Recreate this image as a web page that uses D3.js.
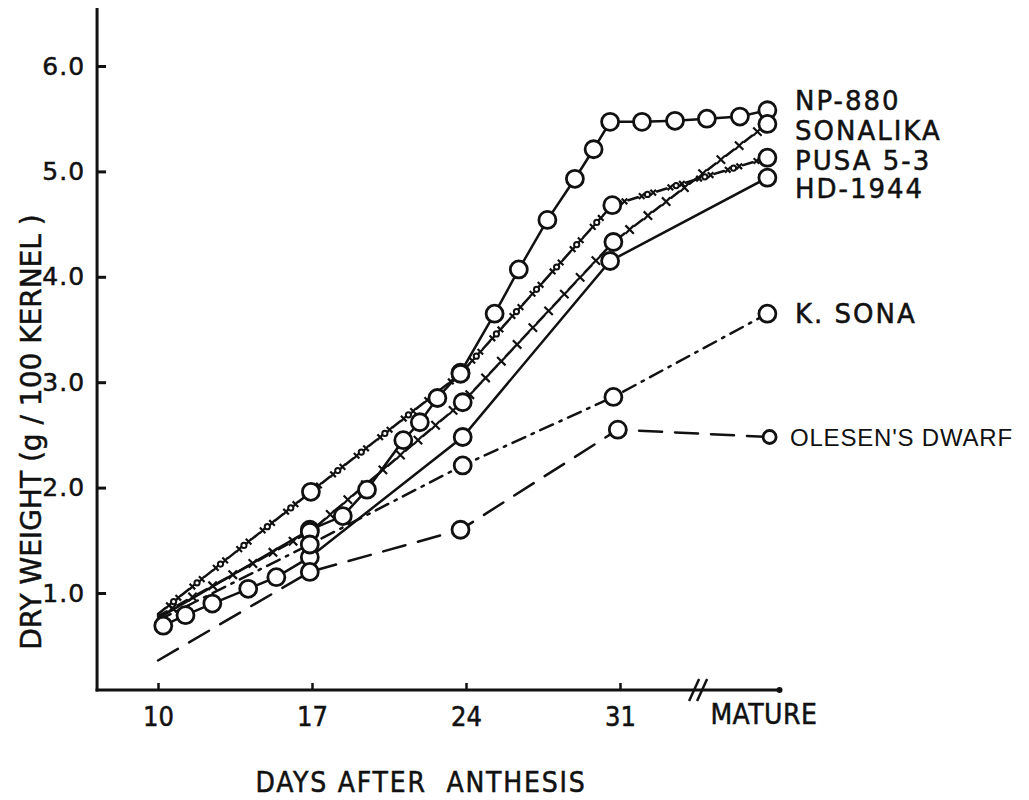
<!DOCTYPE html>
<html>
<head>
<meta charset="utf-8">
<script src="https://cdn.jsdelivr.net/npm/d3@7"></script>
<style>
  body { margin: 0; background: #fff; }
  svg { display: block; }
</style>
</head>
<body>
<div id="chart"></div>
<script>
// data: days after anthesis, dry weight (g / 100 kernel)
const MATURE_DAY = 37.7; // where the "mature" column sits on the day scale

const seriesNames = ["NP-880", "SONALIKA", "PUSA 5-3", "HD-1944", "K.SONA", "OLESEN'S DWARF"];

const np880Days   = [10, 16.9, 18.4, 19.5, 21.15, 21.9, 22.7, 23.75, 25.3, 26.4, 27.7, 28.95, 29.8, 30.55, 32.0, 33.5, 34.95, 36.45, MATURE_DAY];
const np880Values = [0.76, 1.60, 1.73, 1.98, 2.45, 2.62, 2.85, 3.09, 3.65, 4.07, 4.54, 4.93, 5.21, 5.47, 5.47, 5.48, 5.50, 5.52, 5.58];

const sonalikaDays   = [10, 16.9, 23.85, 30.7, MATURE_DAY];
const sonalikaValues = [0.78, 1.58, 2.81, 4.33, 5.45];

const pusaDays   = [10, 16.95, 23.75, 30.65, MATURE_DAY];
const pusaValues = [0.80, 1.96, 3.08, 4.68, 5.13];

const hdDays   = [10.24, 11.25, 12.47, 14.1, 15.38, 16.9, 23.85, 30.55, MATURE_DAY];
const hdValues = [0.69, 0.79, 0.90, 1.04, 1.15, 1.34, 2.48, 4.15, 4.94];

const ksonaDays   = [10, 16.9, 23.85, 30.7, MATURE_DAY];
const ksonaValues = [0.74, 1.46, 2.21, 2.86, 3.65];

const olesenDays   = [10, 16.9, 23.75, 30.9, 37.8];
const olesenValues = [0.36, 1.20, 1.60, 2.55, 2.48];

const xTickDays = [10, 17, 24, 31, MATURE_DAY];
const yTickValues = [1, 2, 3, 4, 5, 6];

// styling per series (not data)
const styles = {
  "NP-880":         { dash: null, deco: null, labelDy: -10 },
  "SONALIKA":       { dash: "10,13", deco: "x", labelDy: 7 },
  "PUSA 5-3":       { dash: "10,20", deco: "xox", labelDy: 3 },
  "HD-1944":        { dash: null, deco: null, labelDy: 11 },
  "K.SONA":         { dash: "14,7,2.5,7", deco: null, labelDy: 0 },
  "OLESEN'S DWARF": { dash: "23,13", deco: null, labelDy: 0 }
};

document.addEventListener("DOMContentLoaded", function () {
  drawChart();
});

function drawChart() {
  const width = 1029, height = 800;

  const svg = d3.select("#chart")
    .append("svg")
    .attr("width", width)
    .attr("height", height);

  const x = d3.scaleLinear().domain([10, 31]).range([158, 620]);
  const y = d3.scaleLinear().domain([1, 6]).range([593, 66]);

  const axisY = y(0.08);      // baseline of the day axis
  const axisX = x(7.23);      // the weight axis
  const ink = "#111";
  const narrow = "'Liberation Sans Narrow', 'DejaVu Sans Condensed', 'Liberation Sans', sans-serif";

  const series = [
    { name: "NP-880", days: np880Days, values: np880Values, openStart: false },
    { name: "SONALIKA", days: sonalikaDays, values: sonalikaValues, openStart: false },
    { name: "PUSA 5-3", days: pusaDays, values: pusaValues, openStart: false },
    { name: "HD-1944", days: hdDays, values: hdValues, openStart: true },
    { name: "K.SONA", days: ksonaDays, values: ksonaValues, openStart: false },
    { name: "OLESEN'S DWARF", days: olesenDays, values: olesenValues, openStart: false }
  ].map(s => ({ ...s, points: s.days.map((d, i) => [d, s.values[i]]) }));

  // ---- axes
  const yAxis = d3.axisLeft(y)
    .tickValues(yTickValues)
    .tickFormat(d3.format(".1f"))
    .tickSizeInner(-9)
    .tickSizeOuter(0)
    .tickPadding(12);

  const gy = svg.append("g")
    .attr("transform", "translate(" + axisX + ",0)")
    .call(yAxis);
  gy.select(".domain").remove();
  gy.selectAll(".tick line").attr("stroke", ink).attr("stroke-width", 3);
  gy.selectAll(".tick text")
    .attr("fill", ink)
    .attr("stroke", ink).attr("stroke-width", 0.5)
    .style("font-family", "'DejaVu Sans', sans-serif")
    .style("font-size", "25px")
    .style("letter-spacing", "1px");

  const xAxis = d3.axisBottom(x)
    .tickValues(xTickDays)
    .tickFormat(d => d === MATURE_DAY ? "MATURE" : d)
    .tickSizeInner(-7)
    .tickSizeOuter(0)
    .tickPadding(17);

  const gx = svg.append("g")
    .attr("transform", "translate(0," + axisY + ")")
    .call(xAxis);
  gx.select(".domain").remove();
  gx.selectAll(".tick line").attr("stroke", ink).attr("stroke-width", 2.5);
  gx.selectAll(".tick").filter(d => d === MATURE_DAY).select("line").remove();
  gx.selectAll(".tick text")
    .attr("fill", ink)
    .attr("stroke", ink).attr("stroke-width", 0.5)
    .style("font-family", narrow)
    .style("font-size", "27px");
  gx.selectAll(".tick").filter(d => d === MATURE_DAY).select("text")
    .attr("dy", "0.62em")
    .attr("dx", "-4px")
    .style("font-size", "28px")
    .style("letter-spacing", "0.5px");

  // axis lines
  svg.append("line")
    .attr("x1", axisX).attr("x2", axisX)
    .attr("y1", y(6.55)).attr("y2", axisY + 1.5)
    .attr("stroke", ink).attr("stroke-width", 3);
  const axisEnd = x(38.25);
  svg.append("line")
    .attr("x1", axisX - 1.5).attr("x2", axisEnd)
    .attr("y1", axisY).attr("y2", axisY)
    .attr("stroke", ink).attr("stroke-width", 3);
  svg.append("circle")
    .attr("cx", axisEnd).attr("cy", axisY).attr("r", 3)
    .attr("fill", ink);

  // axis break
  const breakX = x(34.55);
  [-4, 4].forEach(function (off) {
    svg.append("line")
      .attr("x1", breakX + off - 5).attr("y1", axisY + 11)
      .attr("x2", breakX + off + 5).attr("y2", axisY - 11)
      .attr("stroke", ink).attr("stroke-width", 2.5);
  });

  // axis titles
  svg.append("text")
    .attr("transform", "translate(41,432) rotate(-90)")
    .attr("text-anchor", "middle")
    .attr("fill", ink)
    .attr("stroke", ink).attr("stroke-width", 0.5)
    .style("font-family", "'DejaVu Sans', sans-serif")
    .style("font-size", "28px")
    .text("DRY WEIGHT (g / 100 KERNEL )");

  svg.append("text")
    .attr("x", 421).attr("y", 792)
    .attr("text-anchor", "middle")
    .attr("fill", ink)
    .attr("stroke", ink).attr("stroke-width", 0.5)
    .style("font-family", narrow)
    .style("font-size", "28px")
    .style("letter-spacing", "1.8px")
    .style("white-space", "pre")
    .text("DAYS AFTER  ANTHESIS");

  // ---- lines
  const line = d3.line()
    .x(d => x(d[0]))
    .y(d => y(d[1]));

  const lineGroup = svg.append("g");
  series.forEach(function (s) {
    const st = styles[s.name];
    const path = lineGroup.append("path")
      .datum(s.points)
      .attr("d", line)
      .attr("fill", "none")
      .attr("stroke", ink)
      .attr("stroke-width", 2.5)
      .attr("stroke-linecap", "round")
      .attr("stroke-dasharray", st.dash);

    // little x / o marks inside the dash gaps
    if (st.deco) {
      const node = path.node();
      const total = node.getTotalLength();
      const parts = st.dash.split(",").map(Number);
      const period = parts[0] + parts[1];
      const offsets = st.deco === "x" ? [parts[0] + parts[1] / 2]
        : [parts[0] + 4, parts[0] + 10, parts[0] + 16];
      const kinds = st.deco === "x" ? ["x"] : ["x", "o", "x"];
      for (let L = 0; L < total; L += period) {
        offsets.forEach(function (o, k) {
          if (L + o > total) return;
          const p = node.getPointAtLength(L + o);
          if (kinds[k] === "x") {
            const r = st.deco === "x" ? 4.2 : 2.8;
            lineGroup.append("path")
              .attr("d", "M" + (p.x - r) + "," + (p.y - r) + "L" + (p.x + r) + "," + (p.y + r) +
                         "M" + (p.x - r) + "," + (p.y + r) + "L" + (p.x + r) + "," + (p.y - r))
              .attr("stroke", ink)
              .attr("stroke-width", 2.2);
          } else {
            lineGroup.append("circle")
              .attr("cx", p.x).attr("cy", p.y).attr("r", 2.6)
              .attr("fill", "#fff")
              .attr("stroke", ink)
              .attr("stroke-width", 2);
          }
        });
      }
    }
  });

  // ---- open circles
  const circleGroup = svg.append("g");
  series.forEach(function (s) {
    const pts = s.openStart ? s.points : s.points.slice(1);
    circleGroup.selectAll(null)
      .data(pts)
      .enter()
      .append("circle")
      .attr("cx", d => x(d[0]))
      .attr("cy", d => y(d[1]))
      .attr("r", (d, i) => (s.name === "OLESEN'S DWARF" && i === pts.length - 1) ? 6.5 : 8.5)
      .attr("fill", "#fff")
      .attr("stroke", ink)
      .attr("stroke-width", 2.8);
  });

  // ---- series labels at the right
  const isOlesen = d => d.name === "OLESEN'S DWARF";
  svg.selectAll(".serieslabel")
    .data(series)
    .enter()
    .append("text")
    .attr("class", "serieslabel")
    .attr("x", d => isOlesen(d) ? 790 : 795)
    .attr("y", d => y(d.values[d.values.length - 1]) + styles[d.name].labelDy)
    .attr("dy", "0.36em")
    .attr("fill", ink)
    .attr("stroke", ink)
    .attr("stroke-width", d => isOlesen(d) ? 0 : 0.5)
    .style("font-family", d => isOlesen(d) ? "'Liberation Sans', sans-serif" : "'DejaVu Sans', sans-serif")
    .style("font-size", d => isOlesen(d) ? "24px" : "26px")
    .style("letter-spacing", d => isOlesen(d) ? "0.8px" : "2px")
    .text(d => d.name === "K.SONA" ? "K. SONA" : d.name);
}
</script>
</body>
</html>
